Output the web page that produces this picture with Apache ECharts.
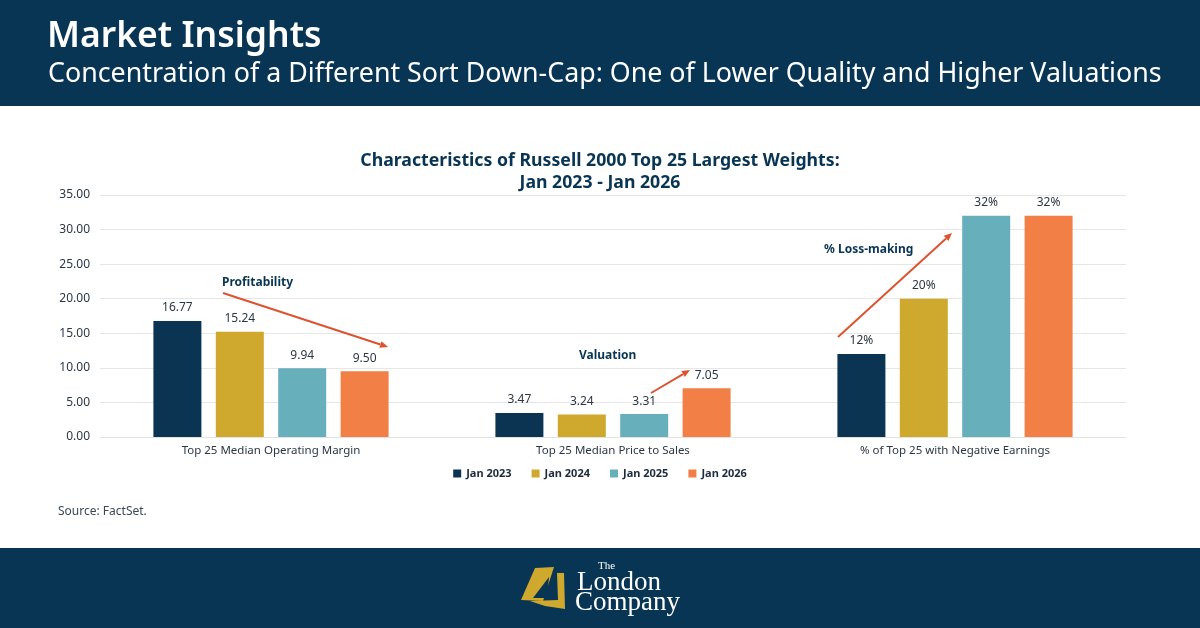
<!DOCTYPE html>
<html>
<head>
<meta charset="utf-8">
<script src="https://cdn.jsdelivr.net/npm/echarts@6/dist/echarts.min.js"></script>
<style>
  html, body { margin: 0; padding: 0; background: #fff; }
  #chart { width: 1200px; height: 628px; }
</style>
</head>
<body>
<div id="chart"></div>
<script>
// data
const categories = ['Top 25 Median Operating Margin', 'Top 25 Median Price to Sales', '% of Top 25 with Negative Earnings'];
const seriesNames = ['Jan 2023', 'Jan 2024', 'Jan 2025', 'Jan 2026'];
const jan2023 = [16.77, 3.47, 12];
const jan2024 = [15.24, 3.24, 20];
const jan2025 = [9.94, 3.31, 32];
const jan2026 = [9.50, 7.05, 32];
const yTicks = { min: 0, max: 35, interval: 5 };

const NAVY = '#083553';
const GOLD = '#cfa82e';
const colors = ['#0a3452', GOLD, '#68afbc', '#f27f46'];
const ARROW = '#dc5330';
const FONT = '"Noto Sans", Lato, sans-serif';

const chart = echarts.init(document.getElementById('chart'));

function arrow(x1, y1, x2, y2) {
  const a = Math.atan2(y2 - y1, x2 - x1);
  const len = 8, w = 3.5;
  const bx = x2 - len * Math.cos(a), by = y2 - len * Math.sin(a);
  const px = -Math.sin(a) * w, py = Math.cos(a) * w;
  return [
    { type: 'line', shape: { x1: x1, y1: y1, x2: bx, y2: by }, style: { stroke: ARROW, lineWidth: 2 }, z: 10 },
    { type: 'polygon', shape: { points: [[x2, y2], [bx + px, by + py], [bx - px, by - py]] }, style: { fill: ARROW }, z: 10 }
  ];
}

function note(x, y, t) {
  return { type: 'text', x: x, y: y, style: { text: t, fill: NAVY, font: 'bold 12px ' + FONT, textVerticalAlign: 'middle' }, z: 10 };
}

const dataSets = [jan2023, jan2024, jan2025, jan2026];

chart.setOption({
  backgroundColor: '#fff',
  animation: false,
  textStyle: { fontFamily: FONT },
  title: {
    text: 'Characteristics of Russell 2000 Top 25 Largest Weights:\nJan 2023 - Jan 2026',
    left: 'center', top: 145,
    textStyle: { color: NAVY, fontSize: 17.7, fontWeight: 'bold', lineHeight: 22, fontFamily: FONT }
  },
  legend: {
    data: seriesNames, bottom: 144, left: 'center',
    icon: 'rect', itemWidth: 8, itemHeight: 8, itemGap: 20,
    textStyle: { color: '#1d2c3c', fontSize: 11, fontWeight: 'bold', fontFamily: FONT }
  },
  grid: { left: 100, right: 74, top: 195, bottom: 191 },
  xAxis: {
    type: 'category', data: categories,
    axisLine: { show: true, lineStyle: { color: '#e2e2e2' } },
    axisTick: { show: false },
    axisLabel: { color: '#2a3744', fontSize: 11.5, margin: 8 }
  },
  yAxis: {
    type: 'value', min: yTicks.min, max: yTicks.max, interval: yTicks.interval,
    axisLabel: { color: '#2a3744', fontSize: 12, margin: 10, formatter: v => v.toFixed(2) },
    splitLine: { lineStyle: { color: '#e6e6e6' } },
    axisLine: { show: false }, axisTick: { show: false }
  },
  series: seriesNames.map((name, i) => ({
    name: name, type: 'bar', data: dataSets[i],
    barWidth: 48, barGap: '30%',
    itemStyle: { color: colors[i] },
    label: {
      show: true, position: 'top', distance: 7, color: '#2a3744', fontSize: 12,
      formatter: p => p.dataIndex === 2 ? Math.round(p.value) + '%' : p.value.toFixed(2)
    }
  })),
  graphic: [
    { type: 'rect', shape: { x: 0, y: 0, width: 1200, height: 106 }, style: { fill: NAVY }, z: 1 },
    { type: 'text', x: 47, y: 37, style: { text: 'Market Insights', fill: '#fff', font: '600 35.5px ' + FONT, textVerticalAlign: 'middle' }, z: 2 },
    { type: 'text', x: 48, y: 74, style: { text: 'Concentration of a Different Sort Down-Cap: One of Lower Quality and Higher Valuations', fill: '#fff', font: '26.8px ' + FONT, textVerticalAlign: 'middle' }, z: 2 },
    { type: 'text', x: 58, y: 512, style: { text: 'Source: FactSet.', fill: '#3b4855', font: '12px ' + FONT, textVerticalAlign: 'middle' }, z: 2 },
    { type: 'rect', shape: { x: 0, y: 548, width: 1200, height: 80 }, style: { fill: NAVY }, z: 1 },
    // logo mark
    { type: 'polygon', shape: { points: [[535, 568], [554, 567], [543, 601], [521, 600]] }, style: { fill: GOLD }, z: 2 },
    { type: 'polygon', shape: { points: [[549, 577], [547, 598], [533, 598]] }, style: { fill: NAVY }, z: 3 },
    { type: 'polygon', shape: { points: [[557, 573], [564, 573], [565, 609], [545, 606], [530, 601], [558, 600]] }, style: { fill: GOLD }, z: 2 },
    { type: 'text', x: 598, y: 566, style: { text: 'The', fill: '#fff', font: '11px "Liberation Serif", serif', textVerticalAlign: 'middle' }, z: 2 },
    { type: 'text', x: 577, y: 583, style: { text: 'London', fill: '#fff', font: '27px "Liberation Serif", serif', textVerticalAlign: 'middle' }, z: 2 },
    { type: 'text', x: 575, y: 603, style: { text: 'Company', fill: '#fff', font: '27px "Liberation Serif", serif', textVerticalAlign: 'middle' }, z: 2 },
    // annotations
    note(222, 283, 'Profitability'),
    ...arrow(223, 293, 388, 347),
    note(579, 356, 'Valuation'),
    ...arrow(651, 393, 690, 370),
    note(824, 250, '% Loss-making'),
    ...arrow(838, 337, 952, 233)
  ]
});
</script>
</body>
</html>
